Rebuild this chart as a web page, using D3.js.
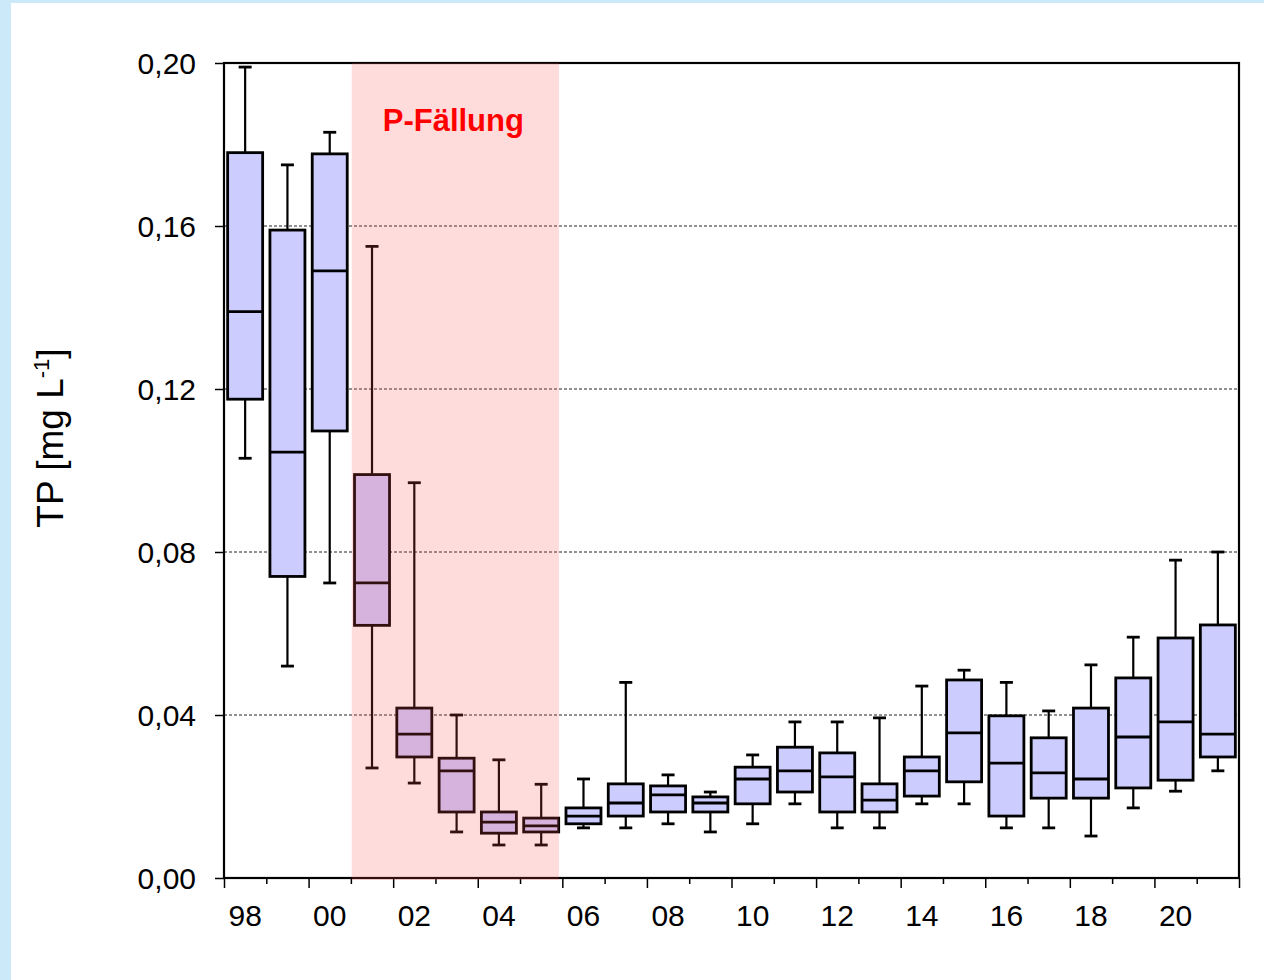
<!DOCTYPE html>
<html>
<head>
<meta charset="utf-8">
<script src="https://cdn.jsdelivr.net/npm/d3@7"></script>
<style>
  body { margin: 0; background: #cce9fa; }
  svg { display: block; font-family: "Liberation Sans", Arial, sans-serif; }
</style>
</head>
<body>
<script>
// years (one box per year)
var years = d3.range(1998, 2022);
// box statistics, TP in mg/L
var whiskerLow  = [0.103, 0.052, 0.0724, 0.027, 0.0233, 0.0113, 0.0081, 0.0081, 0.0123, 0.0123, 0.0133, 0.0113,
                   0.0133, 0.0182, 0.0123, 0.0123, 0.0182, 0.0182, 0.0123, 0.0123, 0.0103, 0.0172, 0.0213, 0.0263];
var q1          = [0.1175, 0.074, 0.1097, 0.062, 0.0297, 0.0162, 0.011, 0.0113, 0.0133, 0.0152, 0.0162, 0.0162,
                   0.0182, 0.0211, 0.0162, 0.0162, 0.0201, 0.0236, 0.0152, 0.0196, 0.0196, 0.0221, 0.024, 0.0297];
var median      = [0.139, 0.1045, 0.149, 0.0724, 0.0353, 0.0263, 0.0137, 0.0128, 0.0152, 0.0184, 0.0204, 0.0184,
                   0.0243, 0.0263, 0.0248, 0.0191, 0.0263, 0.0356, 0.0282, 0.0258, 0.0243, 0.0346, 0.0383, 0.0353];
var q3          = [0.178, 0.159, 0.1777, 0.099, 0.0417, 0.0294, 0.0162, 0.0147, 0.0172, 0.0231, 0.0226, 0.0199,
                   0.0272, 0.0321, 0.0307, 0.0231, 0.0297, 0.0486, 0.0398, 0.0344, 0.0417, 0.0491, 0.0589, 0.0621];
var whiskerHigh = [0.199, 0.175, 0.183, 0.155, 0.097, 0.040, 0.029, 0.023, 0.0243, 0.048, 0.0253, 0.0211,
                   0.0302, 0.0383, 0.0383, 0.0393, 0.0471, 0.051, 0.048, 0.041, 0.0523, 0.0591, 0.078, 0.080];
// y tick values
var yTicks = [0, 0.04, 0.08, 0.12, 0.16, 0.20];
// x labels (even years)
var xLabelYears = [1998, 2000, 2002, 2004, 2006, 2008, 2010, 2012, 2014, 2016, 2018, 2020];
// period of P precipitation
var treatment = [2001.02, 2005.92];
var treatmentLabel = "P-Fällung";

var w = 1264, h = 980;
var plotLeft = 224, plotRight = 1239, plotTop = 63, plotBottom = 878;

var svg = d3.select("body").append("svg")
    .attr("width", w)
    .attr("height", h);

//white panel on the light blue background
svg.append("rect")
    .attr("x", 11).attr("y", 3)
    .attr("width", w).attr("height", h)
    .style("fill", "#ffffff");

var x = d3.scaleLinear()
    .domain([1998, 2022])
    .range([plotLeft, plotRight]);

var y = d3.scaleLinear()
    .domain([0, 0.20])
    .range([plotBottom, plotTop]);

//dotted grid lines
svg.selectAll(".grid")
    .data(yTicks.filter(function(d){ return d > 0 && d < 0.2; }))
    .enter()
    .append("line")
    .attr("class", "grid")
    .attr("x1", plotLeft).attr("x2", plotRight)
    .attr("y1", function(d){ return y(d); })
    .attr("y2", function(d){ return y(d); })
    .style("stroke", "#222")
    .style("stroke-width", 1)
    .style("stroke-dasharray", "3,2");

var boxW = 35, capW = 13;
var boxes = svg.selectAll(".box")
    .data(years)
    .enter()
    .append("g")
    .attr("class", "box")
    .attr("transform", function(d){ return "translate(" + x(d + 0.5) + ",0)"; });

//whiskers
boxes.append("line")
    .attr("x1", 0).attr("x2", 0)
    .attr("y1", function(d, i){ return y(whiskerHigh[i]); })
    .attr("y2", function(d, i){ return y(whiskerLow[i]); })
    .style("stroke", "#000").style("stroke-width", 2.2);
boxes.append("line")
    .attr("x1", -capW / 2).attr("x2", capW / 2)
    .attr("y1", function(d, i){ return y(whiskerHigh[i]); })
    .attr("y2", function(d, i){ return y(whiskerHigh[i]); })
    .style("stroke", "#000").style("stroke-width", 2.8);
boxes.append("line")
    .attr("x1", -capW / 2).attr("x2", capW / 2)
    .attr("y1", function(d, i){ return y(whiskerLow[i]); })
    .attr("y2", function(d, i){ return y(whiskerLow[i]); })
    .style("stroke", "#000").style("stroke-width", 2.8);

//box
boxes.append("rect")
    .attr("x", -boxW / 2)
    .attr("width", boxW)
    .attr("y", function(d, i){ return y(q3[i]); })
    .attr("height", function(d, i){ return y(q1[i]) - y(q3[i]); })
    .style("fill", "#ccccff")
    .style("stroke", "#000")
    .style("stroke-width", 2.8);

//median
boxes.append("line")
    .attr("x1", -boxW / 2).attr("x2", boxW / 2)
    .attr("y1", function(d, i){ return y(median[i]); })
    .attr("y2", function(d, i){ return y(median[i]); })
    .style("stroke", "#000").style("stroke-width", 2.8);

//frame
svg.append("rect")
    .attr("x", plotLeft).attr("y", plotTop)
    .attr("width", plotRight - plotLeft).attr("height", plotBottom - plotTop)
    .style("fill", "none")
    .style("stroke", "#000")
    .style("stroke-width", 2.2);

//y axis
var yAxis = d3.axisLeft(y)
    .tickValues(yTicks)
    .tickSize(9)
    .tickPadding(19)
    .tickFormat(function(d){ return d3.format(".2f")(d).replace(".", ","); });

var yg = svg.append("g")
    .attr("transform", "translate(" + plotLeft + ",0)")
    .call(yAxis);
yg.select(".domain").remove();
yg.selectAll("line").style("stroke", "#000").style("stroke-width", 1.5);
yg.selectAll("text")
    .style("font-size", "30px")
    .style("font-family", "Liberation Sans, Arial, sans-serif")
    .style("fill", "#000")
    .attr("dy", "0.36em");

//x axis: ticks at year boundaries, long ones before even years
var xAxis = d3.axisBottom(x)
    .tickValues(d3.range(1998, 2023))
    .tickSize(10)
    .tickFormat("");
var xg = svg.append("g")
    .attr("transform", "translate(0," + plotBottom + ")")
    .call(xAxis);
xg.select(".domain").remove();
xg.selectAll("line")
    .attr("y2", function(d){ return d % 2 === 0 ? 10 : 6; })
    .style("stroke", "#000").style("stroke-width", 1.5);

svg.selectAll(".xlabel")
    .data(xLabelYears)
    .enter()
    .append("text")
    .attr("class", "xlabel")
    .attr("x", function(d){ return x(d + 0.5); })
    .attr("y", 926)
    .attr("text-anchor", "middle")
    .style("font-size", "30px")
    .text(function(d){ return d3.format("02d")(d % 100); });

//shaded period of P precipitation
svg.append("rect")
    .attr("x", x(treatment[0]))
    .attr("y", plotTop)
    .attr("width", x(treatment[1]) - x(treatment[0]))
    .attr("height", plotBottom - plotTop + 2)
    .style("fill", "rgb(255,80,80)")
    .style("fill-opacity", 0.2);

svg.append("text")
    .attr("x", (x(treatment[0]) + x(treatment[1])) / 2 - 2)
    .attr("y", 131)
    .attr("text-anchor", "middle")
    .style("font-size", "31px")
    .style("font-weight", "bold")
    .style("fill", "#ff0000")
    .text(treatmentLabel);

//y axis title
var title = svg.append("text")
    .attr("transform", "translate(63,438) rotate(-90)")
    .attr("text-anchor", "middle")
    .style("font-size", "37px");
title.append("tspan").text("TP [mg L");
title.append("tspan").attr("dy", -14).style("font-size", "22px").text("-1");
title.append("tspan").attr("dy", 14).text("]");
</script>
</body>
</html>
